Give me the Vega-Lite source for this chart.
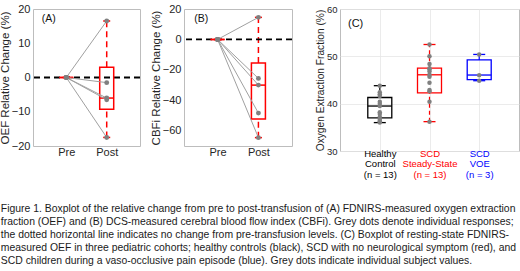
{
  "$schema": "https://vega.github.io/schema/vega-lite/v6.json",
  "background": "white",
  "padding": {"left": -2, "top": -2, "right": 0, "bottom": 0},
  "datasets": {
    "subjA": [
      {"s": 1, "t": 1, "v": 0}, {"s": 1, "t": 2, "v": 16.5},
      {"s": 2, "t": 1, "v": 0}, {"s": 2, "t": 2, "v": -1.5},
      {"s": 3, "t": 1, "v": 0}, {"s": 3, "t": 2, "v": -6.0},
      {"s": 4, "t": 1, "v": 0}, {"s": 4, "t": 2, "v": -6.5},
      {"s": 5, "t": 1, "v": 0}, {"s": 5, "t": 2, "v": -17.5}
    ],
    "boxA": [
      {"t": 1, "q1": 0, "med": 0, "q3": 0, "lo": 0, "hi": 0},
      {"t": 2, "q1": -9.25, "med": -6.0, "q3": 3.0, "lo": -17.5, "hi": 16.5}
    ],
    "subjB": [
      {"s": 1, "t": 1, "v": 0}, {"s": 1, "t": 2, "v": 14.5},
      {"s": 2, "t": 1, "v": 0}, {"s": 2, "t": 2, "v": -25.6},
      {"s": 3, "t": 1, "v": 0}, {"s": 3, "t": 2, "v": -30.0},
      {"s": 4, "t": 1, "v": 0}, {"s": 4, "t": 2, "v": -48.4},
      {"s": 5, "t": 1, "v": 0}, {"s": 5, "t": 2, "v": -64.5}
    ],
    "boxB": [
      {"t": 1, "q1": 0, "med": 0, "q3": 0, "lo": 0, "hi": 0},
      {"t": 2, "q1": -52.3, "med": -30.0, "q3": -15.5, "lo": -64.5, "hi": 14.5}
    ],
    "dotsC": [
      {"g": 1, "v": 43.8}, {"g": 1, "v": 42.4}, {"g": 1, "v": 42.0}, {"g": 1, "v": 41.6},
      {"g": 1, "v": 40.4}, {"g": 1, "v": 40.0}, {"g": 1, "v": 39.5}, {"g": 1, "v": 38.2},
      {"g": 1, "v": 37.8}, {"g": 1, "v": 37.2}, {"g": 1, "v": 36.6}, {"g": 1, "v": 36.3},
      {"g": 1, "v": 36.0},
      {"g": 2, "v": 52.5}, {"g": 2, "v": 50.0}, {"g": 2, "v": 48.4}, {"g": 2, "v": 47.5},
      {"g": 2, "v": 47.2}, {"g": 2, "v": 46.8}, {"g": 2, "v": 46.1}, {"g": 2, "v": 45.7},
      {"g": 2, "v": 44.4}, {"g": 2, "v": 42.9}, {"g": 2, "v": 42.6}, {"g": 2, "v": 40.4},
      {"g": 2, "v": 36.2},
      {"g": 3, "v": 50.4}, {"g": 3, "v": 46.0}, {"g": 3, "v": 44.85}
    ],
    "boxC": [
      {"g": 1, "grp": "Healthy", "q1": 37.0, "med": 39.5, "q3": 41.3, "lo": 36.0, "hi": 43.8},
      {"g": 2, "grp": "SCD SS", "q1": 42.3, "med": 46.1, "q3": 47.5, "lo": 36.2, "hi": 52.5},
      {"g": 3, "grp": "VOE", "q1": 45.1, "med": 46.05, "q3": 49.25, "lo": 44.85, "hi": 50.4}
    ]
  },
  "title": {
    "text": [
      "Figure 1. Boxplot of the relative change from pre to post-transfusion of (A) FDNIRS-measured oxygen extraction",
      "fraction (OEF) and (B) DCS-measured cerebral blood flow index (CBFi). Grey dots denote individual responses;",
      "the dotted horizontal line indicates no change from pre-transfusion levels. (C) Boxplot of resting-state FDNIRS-",
      "measured OEF in three pediatric cohorts; healthy controls (black), SCD with no neurological symptom (red), and",
      "SCD children during a vaso-occlusive pain episode (blue). Grey dots indicate individual subject values."
    ],
    "orient": "bottom",
    "anchor": "start",
    "font": "Liberation Sans",
    "fontSize": 10.4,
    "fontWeight": "normal",
    "lineHeight": 12.8,
    "color": "#1a1a1a",
    "offset": 25,
    "dx": 2
  },
  "hconcat": [
    {
      "hconcat": [
        {
          "width": 107,
          "height": 137,
          "resolve": {"axis": {"x": "independent", "y": "independent"}},
          "layer": [
            {
              "data": {"name": "boxA"},
              "mark": {"type": "rule", "color": "red", "strokeWidth": 1.5, "strokeDash": [6, 4]},
              "encoding": {
                "x": {"field": "t", "type": "quantitative", "scale": {"domain": [0.3, 2.7], "nice": false, "zero": false},
                      "axis": {"values": [1, 2], "labelExpr": "datum.value == 1 ? 'Pre' : 'Post'", "title": null, "labelFontSize": 11, "labelPadding": 0, "labelFlush": false}},
                "y": {"field": "q3", "type": "quantitative", "scale": {"domain": [-20, 20], "nice": false, "zero": false},
                      "axis": {"values": [-20, -10, 0, 10, 20], "title": "OEF Relative Change (%)", "labelFontSize": 11, "titleFontSize": 11.5, "titlePadding": 1, "labelOverlap": false, "labelFlush": false, "labelSeparation": 0}},
                "y2": {"field": "hi"}
              }
            },
            {
              "data": {"values": [{}]},
              "mark": {"type": "rule", "color": "black", "strokeWidth": 1.8, "strokeDash": [6, 4]},
              "encoding": {"y": {"datum": 0, "type": "quantitative", "axis": null}}
            },
            {
              "data": {"name": "boxA"},
              "mark": {"type": "point", "opacity": 0},
              "encoding": {
                "x": {"field": "t", "type": "quantitative",
                      "axis": {"orient": "top", "values": [1, 2], "labels": false, "ticks": false, "title": " ", "titleFontSize": 8, "titlePadding": 2}},
                "y": {"field": "med", "type": "quantitative", "axis": null}
              }
            },
            {
              "data": {"name": "boxA"},
              "mark": {"type": "rule", "color": "red", "strokeWidth": 1.5, "strokeDash": [6, 4]},
              "encoding": {
                "x": {"field": "t", "type": "quantitative", "axis": null},
                "y": {"field": "lo", "type": "quantitative", "axis": null},
                "y2": {"field": "q1"}
              }
            },
            {
              "data": {"name": "boxA"},
              "mark": {"type": "bar", "filled": false, "color": "red", "strokeWidth": 1.5, "width": 14},
              "encoding": {
                "x": {"field": "t", "type": "quantitative", "axis": null},
                "y": {"field": "q1", "type": "quantitative", "axis": null},
                "y2": {"field": "q3"}
              }
            },
            {
              "data": {"name": "boxA"},
              "transform": [{"fold": ["lo", "hi"], "as": ["k", "capv"]}],
              "mark": {"type": "tick", "orient": "horizontal", "color": "red", "size": 7, "thickness": 1.5, "opacity": 1},
              "encoding": {
                "x": {"field": "t", "type": "quantitative", "axis": null},
                "y": {"field": "capv", "type": "quantitative", "axis": null}
              }
            },
            {
              "data": {"name": "boxA"},
              "mark": {"type": "tick", "orient": "horizontal", "color": "red", "size": 14, "thickness": 1.5, "opacity": 1},
              "encoding": {
                "x": {"field": "t", "type": "quantitative", "axis": null},
                "y": {"field": "med", "type": "quantitative", "axis": null}
              }
            },
            {
              "data": {"name": "subjA"},
              "mark": {"type": "line", "color": "#a0a0a0", "strokeWidth": 1},
              "encoding": {
                "x": {"field": "t", "type": "quantitative", "axis": null},
                "y": {"field": "v", "type": "quantitative", "axis": null},
                "detail": {"field": "s", "type": "nominal"}
              }
            },
            {
              "data": {"name": "subjA"},
              "mark": {"type": "point", "filled": true, "color": "#808080", "size": 24, "opacity": 1},
              "encoding": {
                "x": {"field": "t", "type": "quantitative", "axis": null},
                "y": {"field": "v", "type": "quantitative", "axis": null}
              }
            },
            {
              "data": {"values": [{}]},
              "mark": {"type": "text", "text": "(A)", "align": "left", "baseline": "middle", "fontSize": 10.5, "font": "Liberation Sans", "color": "#111"},
              "encoding": {"x": {"datum": 0.39, "type": "quantitative", "axis": null}, "y": {"datum": 17, "type": "quantitative", "axis": null}}
            }
          ]
        },
        {
          "width": 108,
          "height": 137,
          "resolve": {"axis": {"x": "independent", "y": "independent"}},
          "layer": [
            {
              "data": {"name": "boxB"},
              "mark": {"type": "rule", "color": "red", "strokeWidth": 1.5, "strokeDash": [6, 4]},
              "encoding": {
                "x": {"field": "t", "type": "quantitative", "scale": {"domain": [0.3, 2.7], "nice": false, "zero": false},
                      "axis": {"values": [1, 2], "labelExpr": "datum.value == 1 ? 'Pre' : 'Post'", "title": null, "labelFontSize": 11, "labelPadding": 0, "labelFlush": false}},
                "y": {"field": "q3", "type": "quantitative", "scale": {"domain": [-70, 20], "nice": false, "zero": false},
                      "axis": {"values": [-60, -40, -20, 0, 20], "title": "CBFi Relative Change (%)", "labelFontSize": 11, "titleFontSize": 11.5, "titlePadding": 1, "labelOverlap": false, "labelFlush": false, "labelSeparation": 0}},
                "y2": {"field": "hi"}
              }
            },
            {
              "data": {"values": [{}]},
              "mark": {"type": "rule", "color": "black", "strokeWidth": 1.8, "strokeDash": [6, 4]},
              "encoding": {"y": {"datum": 0, "type": "quantitative", "axis": null}}
            },
            {
              "data": {"name": "boxB"},
              "mark": {"type": "point", "opacity": 0},
              "encoding": {
                "x": {"field": "t", "type": "quantitative",
                      "axis": {"orient": "top", "values": [1, 2], "labels": false, "ticks": false, "title": " ", "titleFontSize": 8, "titlePadding": 2}},
                "y": {"field": "med", "type": "quantitative", "axis": null}
              }
            },
            {
              "data": {"name": "boxB"},
              "mark": {"type": "rule", "color": "red", "strokeWidth": 1.5, "strokeDash": [6, 4]},
              "encoding": {
                "x": {"field": "t", "type": "quantitative", "axis": null},
                "y": {"field": "lo", "type": "quantitative", "axis": null},
                "y2": {"field": "q1"}
              }
            },
            {
              "data": {"name": "boxB"},
              "mark": {"type": "bar", "filled": false, "color": "red", "strokeWidth": 1.5, "width": 14},
              "encoding": {
                "x": {"field": "t", "type": "quantitative", "axis": null},
                "y": {"field": "q1", "type": "quantitative", "axis": null},
                "y2": {"field": "q3"}
              }
            },
            {
              "data": {"name": "boxB"},
              "transform": [{"fold": ["lo", "hi"], "as": ["k", "capv"]}],
              "mark": {"type": "tick", "orient": "horizontal", "color": "red", "size": 7, "thickness": 1.5, "opacity": 1},
              "encoding": {
                "x": {"field": "t", "type": "quantitative", "axis": null},
                "y": {"field": "capv", "type": "quantitative", "axis": null}
              }
            },
            {
              "data": {"name": "boxB"},
              "mark": {"type": "tick", "orient": "horizontal", "color": "red", "size": 14, "thickness": 1.5, "opacity": 1},
              "encoding": {
                "x": {"field": "t", "type": "quantitative", "axis": null},
                "y": {"field": "med", "type": "quantitative", "axis": null}
              }
            },
            {
              "data": {"name": "subjB"},
              "mark": {"type": "line", "color": "#a0a0a0", "strokeWidth": 1},
              "encoding": {
                "x": {"field": "t", "type": "quantitative", "axis": null},
                "y": {"field": "v", "type": "quantitative", "axis": null},
                "detail": {"field": "s", "type": "nominal"}
              }
            },
            {
              "data": {"name": "subjB"},
              "mark": {"type": "point", "filled": true, "color": "#808080", "size": 24, "opacity": 1},
              "encoding": {
                "x": {"field": "t", "type": "quantitative", "axis": null},
                "y": {"field": "v", "type": "quantitative", "axis": null}
              }
            },
            {
              "data": {"values": [{}]},
              "mark": {"type": "text", "text": "(B)", "align": "left", "baseline": "middle", "fontSize": 10.5, "font": "Liberation Sans", "color": "#111"},
              "encoding": {"x": {"datum": 0.43, "type": "quantitative", "axis": null}, "y": {"datum": 13.4, "type": "quantitative", "axis": null}}
            }
          ]
        }
      ],
      "spacing": 7
    },
    {
      "width": 179,
      "height": 142,
      "layer": [
        {
          "data": {"name": "boxC"},
          "mark": {"type": "rule", "strokeWidth": 1.2, "strokeDash": [4, 3]},
          "encoding": {
            "x": {"field": "g", "type": "quantitative", "scale": {"domain": [0.3, 3.7], "nice": false, "zero": false},
                  "axis": {"values": [1, 2, 3], "grid": true, "title": null, "labelFontSize": 9.5, "labelPadding": -3, "labelFlush": false, "labelLineHeight": 10.7,
                           "labelExpr": "datum.value == 1 ? ['Healthy', 'Control', '(n = 13)'] : datum.value == 2 ? ['SCD', 'Steady-State', '(n = 13)'] : ['SCD', 'VOE', '(n = 3)']",
                           "labelColor": {"condition": [{"test": "datum.value == 2", "value": "red"}, {"test": "datum.value == 3", "value": "blue"}], "value": "black"}}},
            "y": {"field": "q3", "type": "quantitative", "scale": {"domain": [30, 60], "nice": false, "zero": false},
                  "axis": {"values": [30, 35, 40, 45, 50, 55, 60], "grid": true, "title": "Oxygen Extraction Fraction (%)", "labelFontSize": 9.5, "titleFontSize": 10.2, "titlePadding": 1, "labelOverlap": false, "labelFlush": false}},
            "y2": {"field": "hi"},
            "color": {"field": "grp", "type": "nominal", "scale": {"domain": ["Healthy", "SCD SS", "VOE"], "range": ["black", "red", "blue"]}, "legend": null}
          }
        },
        {
          "data": {"name": "boxC"},
          "mark": {"type": "rule", "strokeWidth": 1.2, "strokeDash": [4, 3]},
          "encoding": {
            "x": {"field": "g", "type": "quantitative"},
            "y": {"field": "lo", "type": "quantitative"},
            "y2": {"field": "q1"},
            "color": {"field": "grp", "type": "nominal", "legend": null}
          }
        },
        {
          "data": {"name": "boxC"},
          "mark": {"type": "bar", "filled": false, "strokeWidth": 1.3, "width": 24},
          "encoding": {
            "x": {"field": "g", "type": "quantitative"},
            "y": {"field": "q1", "type": "quantitative"},
            "y2": {"field": "q3"},
            "color": {"field": "grp", "type": "nominal", "legend": null}
          }
        },
        {
          "data": {"name": "boxC"},
          "transform": [{"fold": ["lo", "hi"], "as": ["k", "capv"]}],
          "mark": {"type": "tick", "orient": "horizontal", "size": 12, "thickness": 1.3, "opacity": 1},
          "encoding": {
            "x": {"field": "g", "type": "quantitative"},
            "y": {"field": "capv", "type": "quantitative"},
            "color": {"field": "grp", "type": "nominal", "legend": null}
          }
        },
        {
          "data": {"name": "boxC"},
          "mark": {"type": "tick", "orient": "horizontal", "size": 24, "thickness": 1.3, "opacity": 1},
          "encoding": {
            "x": {"field": "g", "type": "quantitative"},
            "y": {"field": "med", "type": "quantitative"},
            "color": {"field": "grp", "type": "nominal", "legend": null}
          }
        },
        {
          "data": {"name": "dotsC"},
          "mark": {"type": "point", "filled": true, "color": "#808080", "size": 20, "opacity": 1},
          "encoding": {
            "x": {"field": "g", "type": "quantitative"},
            "y": {"field": "v", "type": "quantitative"}
          }
        },
        {
          "data": {"values": [{}]},
          "mark": {"type": "text", "text": "(C)", "align": "left", "baseline": "middle", "fontSize": 11, "font": "Liberation Sans", "color": "#111"},
          "encoding": {"x": {"datum": 0.36, "type": "quantitative"}, "y": {"datum": 56.9, "type": "quantitative"}}
        }
      ]
    }
  ],
  "spacing": 20,
  "config": {
    "view": {"stroke": "#bdbdbd", "strokeWidth": 1},
    "axis": {
      "labelFont": "Liberation Sans",
      "titleFont": "Liberation Sans",
      "labelColor": "#262626",
      "titleColor": "#262626",
      "titleFontWeight": "normal",
      "domain": false,
      "grid": false,
      "gridColor": "#e6e6e6",
      "gridWidth": 0.8,
      "ticks": false,
      "labelPadding": 3,
      "labelOverlap": false
    }
  }
}
